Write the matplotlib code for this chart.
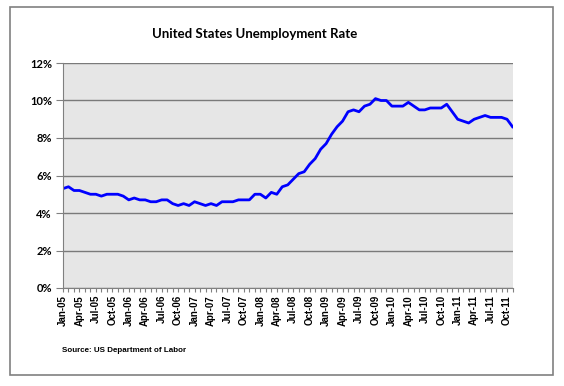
import numpy as np
import matplotlib
matplotlib.use('Agg')
import matplotlib.pyplot as plt
from matplotlib.patches import Rectangle

# monthly unemployment rate (%), Jan-05 .. Nov-11
rate_2005 = [5.3, 5.4, 5.2, 5.2, 5.1, 5.0, 5.0, 4.9, 5.0, 5.0, 5.0, 4.9]
rate_2006 = [4.7, 4.8, 4.7, 4.7, 4.6, 4.6, 4.7, 4.7, 4.5, 4.4, 4.5, 4.4]
rate_2007 = [4.6, 4.5, 4.4, 4.5, 4.4, 4.6, 4.6, 4.6, 4.7, 4.7, 4.7, 5.0]
rate_2008 = [5.0, 4.8, 5.1, 5.0, 5.4, 5.5, 5.8, 6.1, 6.2, 6.6, 6.9, 7.4]
rate_2009 = [7.7, 8.2, 8.6, 8.9, 9.4, 9.5, 9.4, 9.7, 9.8, 10.1, 10.0, 10.0]
rate_2010 = [9.7, 9.7, 9.7, 9.9, 9.7, 9.5, 9.5, 9.6, 9.6, 9.6, 9.8, 9.4]
rate_2011 = [9.0, 8.9, 8.8, 9.0, 9.1, 9.2, 9.1, 9.1, 9.1, 9.0, 8.6]

months = ['Jan', 'Feb', 'Mar', 'Apr', 'May', 'Jun', 'Jul', 'Aug', 'Sep', 'Oct', 'Nov', 'Dec']
years = ['05', '06', '07', '08', '09', '10', '11']

rates = rate_2005 + rate_2006 + rate_2007 + rate_2008 + rate_2009 + rate_2010 + rate_2011
labels = [m + '-' + y for y in years for m in months][:len(rates)]

fig = plt.figure(figsize=(5.64, 3.86), dpi=100)

# outer chart border
fig.patches.append(Rectangle((10 / 564, 1 - 375 / 386), 543 / 564, 368 / 386,
                             transform=fig.transFigure, fill=False,
                             edgecolor='#808080', linewidth=1.2))

ax = fig.add_axes([63 / 564, 1 - 288 / 386, 449.5 / 564, 225 / 386])
ax.set_facecolor('#E6E6E6')

x = np.arange(len(rates))
ax.plot(x, np.array(rates) / 100, color='#0000FF', linewidth=2.0, solid_joinstyle='round')

ax.set_xlim(0, len(rates) - 1)
ax.set_ylim(0, 0.12)
ax.set_yticks(np.arange(0, 0.121, 0.02))
ax.set_yticklabels(['%d%%' % v for v in range(0, 13, 2)],
                   fontfamily='Lato', fontweight='bold', fontsize=8)
ax.yaxis.grid(True, color='#7a7a7a', linewidth=1.0)
ax.set_axisbelow(True)

ax.set_xticks(x)
ax.set_xticklabels([l if i % 3 == 0 else '' for i, l in enumerate(labels)],
                   rotation=90, fontfamily='Liberation Sans', fontweight='bold', fontsize=7)
ax.tick_params(axis='x', length=3, color='#808080', pad=2)
ax.tick_params(axis='y', length=5, color='#808080', pad=3)

for s in ['top', 'right']:
    ax.spines[s].set_visible(False)
for s in ['left', 'bottom']:
    ax.spines[s].set_color('#808080')

fig.text(255 / 564, 1 - 34 / 386, 'United States Unemployment Rate', ha='center', va='center',
         fontfamily='Lato', fontweight='bold', fontsize=9.5)
fig.text(62 / 564, 1 - 351 / 386, 'Source: US Department of Labor', ha='left', va='center',
         fontfamily='Liberation Sans', fontweight='bold', fontsize=5.8)

fig.savefig('out.png', dpi=100)
